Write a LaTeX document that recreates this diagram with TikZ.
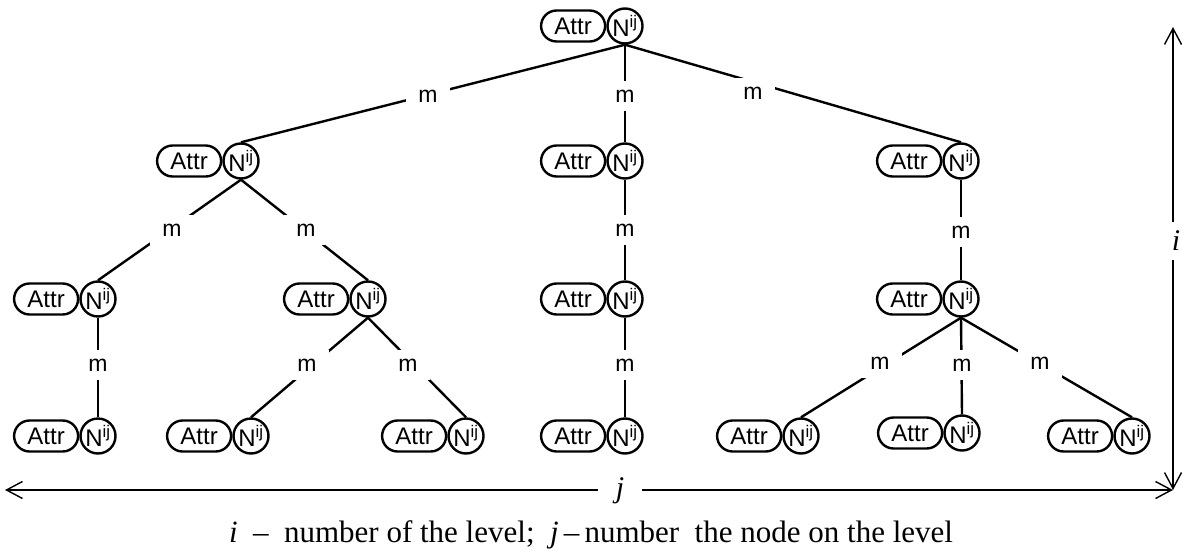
\documentclass[tikz,border=0pt]{standalone}
\usepackage{fontspec}
\setmainfont{Liberation Serif}
\setsansfont{Liberation Sans}
\usetikzlibrary{arrows.meta}
\newcommand\pairnode[3]{%
  \node[nn] (#1) at (#2,#3) {N\textsuperscript{ij}};
  \node[attr] (#1a) at (#1.west) {Attr};}
\begin{document}
\begin{tikzpicture}[x=1pt,y=-1pt,
  nn/.style={circle,draw,line width=2.4pt,minimum size=35pt,inner sep=0pt,font=\sffamily\fontsize{24}{24}\selectfont},
  attr/.style={draw,line width=2.4pt,rounded corners=15.5pt,minimum width=64pt,minimum height=31pt,inner sep=0pt,font=\sffamily\fontsize{24}{24}\selectfont,anchor=east},
  edge/.style={line width=2.4pt},
  lab/.style={fill=white,inner xsep=12pt,inner ysep=9pt,font=\sffamily\fontsize{23}{23}\selectfont},
  arr/.style={line width=1.4pt,{Straight Barb[length=16pt,width=17pt]}-{Straight Barb[length=16pt,width=17pt]}},
]
\useasboundingbox (0,0) rectangle (1182,559);
% level 0
\pairnode{r}{625}{26}
% level 1
\pairnode{a}{241}{161}
\pairnode{b}{625}{161}
\pairnode{c}{961}{161}
% level 2
\pairnode{aa}{98}{299}
\pairnode{ab}{368}{299}
\pairnode{ba}{625}{299}
\pairnode{ca}{961}{299}
% level 3
\pairnode{aaa}{98}{436}
\pairnode{aba}{251}{436}
\pairnode{abb}{466}{436}
\pairnode{baa}{625}{436}
\pairnode{caa}{801}{436}
\pairnode{cab}{962}{433}
\pairnode{cac}{1132}{436}
% edges
\draw[edge] (r.south) -- (a.north);
\draw[edge] (r.south) -- (b.north);
\draw[edge] (r.south) -- (c.north);
\draw[edge] (a.south) -- (aa.north);
\draw[edge] (a.south) -- (ab.north);
\draw[edge] (b.south) -- (ba.north);
\draw[edge] (c.south) -- (ca.north);
\draw[edge] (aa.south) -- (aaa.north);
\draw[edge] (ab.south) -- (aba.north);
\draw[edge] (ab.south) -- (abb.north);
\draw[edge] (ba.south) -- (baa.north);
\draw[edge] (ca.south) -- (caa.north);
\draw[edge] (ca.south) -- (cab.north);
\draw[edge] (ca.south) -- (cac.north);
% labels
\node[lab] (m1) at (428,96) {m};
\node[lab] (m2) at (625,96) {m};
\node[lab] (m3) at (753,93) {m};
\node[lab] (m4) at (172,230) {m};
\node[lab] (m5) at (306,230) {m};
\node[lab] (m6) at (625,230) {m};
\node[lab] (m7) at (961,232) {m};
\node[lab] (m8) at (98,365) {m};
\node[lab] (m9) at (307,365) {m};
\node[lab] (m10) at (408,365) {m};
\node[lab] (m11) at (625,365) {m};
\node[lab] (m12) at (880,363) {m};
\node[lab] (m13) at (962,365) {m};
\node[lab] (m14) at (1040,363) {m};
% axes
\coordinate (hl) at (5,490);
\coordinate (hr) at (1173,490);
\coordinate (vt) at (1173,27);
\coordinate (vb) at (1173,490);
\draw[arr] (hl) -- (hr);
\draw[arr] (vt) -- (vb);
\node[fill=white,inner xsep=18pt,inner ysep=2pt,font=\itshape\fontsize{30}{30}\selectfont] (jl) at (620,491) {j};
\node[fill=white,inner xsep=2pt,inner ysep=9pt,font=\itshape\fontsize{30}{30}\selectfont] (il) at (1176,241) {i};
\node[font=\fontsize{31}{34}\selectfont,anchor=base] (cap) at (591,542)
  {\textit{i}\ \ –\ \ number of the level;\ \ \textit{j}\,–\,number\ \ the node on the level};
\end{tikzpicture}
\end{document}
